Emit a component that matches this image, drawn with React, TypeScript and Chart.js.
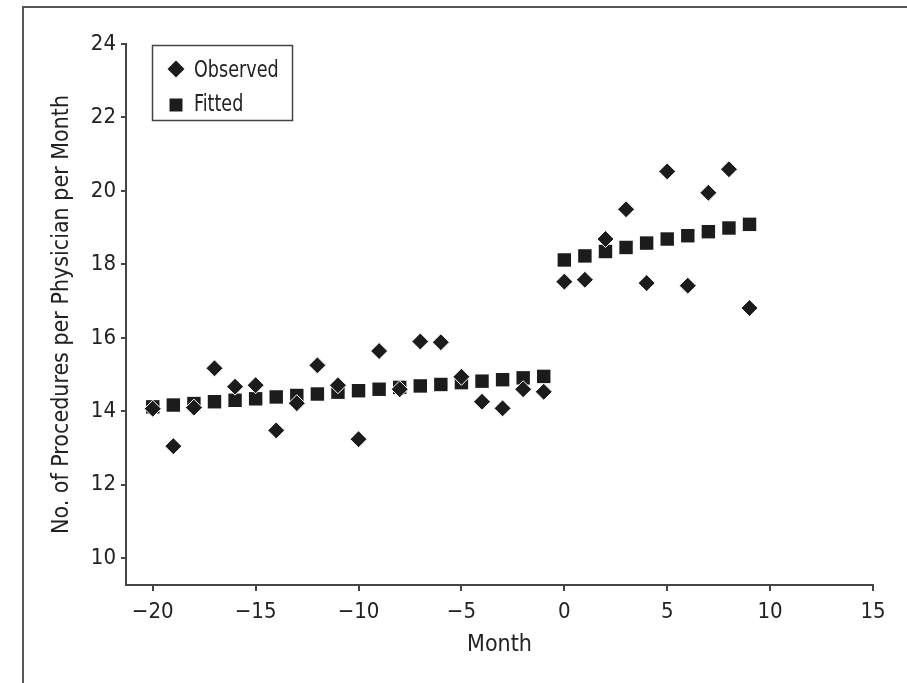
import React, { useEffect, useRef } from 'react';
import { Chart, registerables } from 'chart.js';

Chart.register(...registerables);

// ---- Data ----
const months = [-20, -19, -18, -17, -16, -15, -14, -13, -12, -11, -10, -9, -8, -7, -6, -5, -4, -3, -2, -1, 0, 1, 2, 3, 4, 5, 6, 7, 8, 9];
const observed = [14.07, 13.05, 14.1, 15.17, 14.67, 14.71, 13.48, 14.22, 15.25, 14.71, 13.24, 15.64, 14.6, 15.9, 15.88, 14.94, 14.26, 14.08, 14.6, 14.53, 17.53, 17.58, 18.69, 19.5, 17.49, 20.53, 17.42, 19.95, 20.59, 16.81];
const fitted = [14.12, 14.17, 14.21, 14.26, 14.3, 14.34, 14.39, 14.43, 14.47, 14.52, 14.56, 14.6, 14.65, 14.69, 14.73, 14.78, 14.82, 14.86, 14.91, 14.95, 18.12, 18.23, 18.35, 18.46, 18.58, 18.69, 18.78, 18.89, 18.99, 19.09];
const xTicks = [-20, -15, -10, -5, 0, 5, 10, 15];
const yTicks = [10, 12, 14, 16, 18, 20, 22, 24];
const seriesNames = ['Observed', 'Fitted'];
const xTitle = 'Month';
const yTitle = 'No. of Procedures per Physician per Month';

const FONT = "'Liberation Sans Narrow', 'DejaVu Sans Condensed', 'Roboto', sans-serif";
const TEXT = '#222';
const AXIS = '#444';
const MARK = '#1c1c1c';

const fmt = (v: number) => String(v).replace('-', '\u2212');

const legendPlugin = {
  id: 'boxLegend',
  afterDraw(chart: any) {
    const ctx = chart.ctx as CanvasRenderingContext2D;
    const left = chart.chartArea.left + 26;
    const top = chart.chartArea.top + 1;
    ctx.save();
    ctx.strokeStyle = AXIS;
    ctx.lineWidth = 1.5;
    ctx.strokeRect(left + 0.5, top + 0.5, 140, 75);
    ctx.fillStyle = MARK;
    // diamond
    const dx = left + 24, dy = top + 24;
    ctx.beginPath();
    ctx.moveTo(dx - 8.5, dy);
    ctx.lineTo(dx, dy - 8.5);
    ctx.lineTo(dx + 8.5, dy);
    ctx.lineTo(dx, dy + 8.5);
    ctx.closePath();
    ctx.fill();
    // square
    const sx = left + 24, sy = top + 60;
    ctx.fillRect(sx - 6.5, sy - 6.5, 13, 13);
    ctx.fillStyle = TEXT;
    ctx.font = `23px ${FONT}`;
    ctx.textBaseline = 'alphabetic';
    ctx.textAlign = 'left';
    const tx = left + 42;
    ctx.translate(tx, 0);
    ctx.scale(0.85, 1);
    ctx.fillText(seriesNames[0], 0, top + 32);
    ctx.fillText(seriesNames[1], 0, top + 66);
    ctx.restore();
  },
};

export default function App() {
  const ref = useRef<HTMLCanvasElement | null>(null);
  useEffect(() => {
    if (!ref.current) return;
    const chart = new Chart(ref.current, {
      type: 'scatter',
      data: {
        datasets: [
          {
            label: seriesNames[0],
            data: months.map((m, i) => ({ x: m, y: observed[i] })),
            pointStyle: 'rectRot',
            pointRadius: 8.5,
            backgroundColor: MARK,
            borderColor: '#ffffff',
            borderWidth: 1,
          },
          {
            label: seriesNames[1],
            data: months.map((m, i) => ({ x: m, y: fitted[i] })),
            pointStyle: 'rect',
            pointRadius: 9.5,
            backgroundColor: MARK,
            borderWidth: 0,
          },
        ],
      },
      options: {
        animation: false,
        responsive: false,
        devicePixelRatio: 1,
        layout: { padding: { top: 44, right: 34, left: 0, bottom: 0 } },
        plugins: { legend: { display: false }, tooltip: { enabled: false } },
        scales: {
          x: {
            type: 'linear',
            position: 'bottom',
            min: -21.3,
            max: 15,
            afterBuildTicks: (s: any) => { s.ticks = xTicks.map((v) => ({ value: v })); },
            afterFit: (s: any) => { s.height = 98; },
            grid: { drawOnChartArea: false, drawTicks: true, tickLength: 6, color: AXIS, lineWidth: 2 },
            border: { display: true, color: AXIS, width: 2 },
            ticks: { color: TEXT, font: { family: FONT, size: 22 }, padding: 8, callback: (v: any) => fmt(v), maxRotation: 0 },
            title: { display: true, text: xTitle, color: TEXT, font: { family: FONT, size: 23 }, padding: { top: 24, bottom: 24 } },
          },
          y: {
            type: 'linear',
            position: 'left',
            min: 9.27,
            max: 24,
            afterBuildTicks: (s: any) => { s.ticks = yTicks.map((v) => ({ value: v })); },
            afterFit: (s: any) => { s.width = 126; },
            grid: { drawOnChartArea: false, drawTicks: true, tickLength: 5, color: AXIS, lineWidth: 2 },
            border: { display: true, color: AXIS, width: 2 },
            ticks: { color: TEXT, font: { family: FONT, size: 22 }, padding: 5, callback: (v: any) => fmt(v) },
            title: { display: true, text: yTitle, color: TEXT, font: { family: FONT, size: 23 }, padding: { top: 48, bottom: 0 } },
          },
        },
      },
      plugins: [legendPlugin],
    } as any);
    return () => chart.destroy();
  }, []);

  return (
    <div style={{ position: 'absolute', left: 0, top: 0, width: 907, height: 683, overflow: 'hidden', background: '#fff' }}>
      <div style={{ position: 'absolute', left: 22, top: 6, right: -10, bottom: -10, borderTop: '2px solid #555', borderLeft: '2px solid #555' }} />
      <canvas ref={ref} width={907} height={683} style={{ position: 'absolute', left: 0, top: 0, width: 907, height: 683 }} />
    </div>
  );
}
